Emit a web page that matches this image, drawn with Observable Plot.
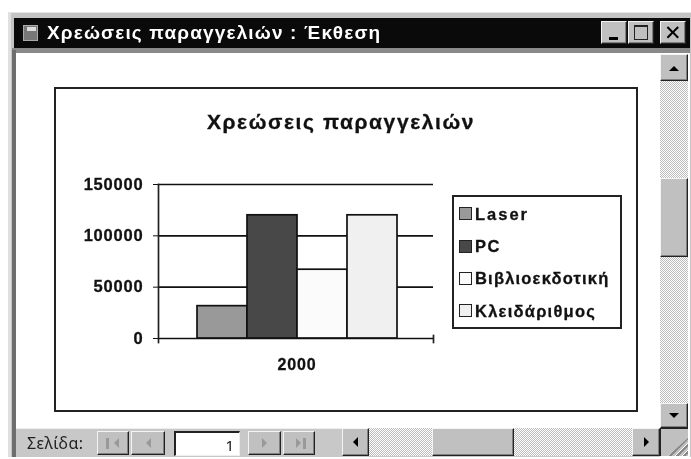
<!DOCTYPE html>
<html lang="el"><head><meta charset="utf-8">
<script src="https://cdn.jsdelivr.net/npm/d3@7"></script>
<script src="https://cdn.jsdelivr.net/npm/@observablehq/plot@0.6"></script>
<style>
html,body{margin:0;padding:0;background:#fff}
#stage{position:relative;width:691px;height:459px;overflow:hidden;background:#fff;font-family:"Liberation Sans",Arial,sans-serif;filter:blur(0.45px)}
#stage div{position:absolute;box-sizing:border-box}
#stage svg{position:absolute;left:0;top:0;background:transparent}
#stage svg text{stroke:#111;stroke-width:.3px;letter-spacing:.8px}
.heavy{-webkit-text-stroke:.3px currentColor}
.btn{background:#c0c0c0;border:1px solid;border-color:#f4f4f4 #222 #222 #f4f4f4;box-shadow:inset -1px -1px 0 #808080}
.chk{background-color:#fff;background-image:conic-gradient(#bcbcbc 25%,#fff 0 50%,#bcbcbc 0 75%,#fff 0);background-size:2px 2px}
</style></head><body><div id="stage"></div>
<script>
const years = ["2000"];
const series = ["Laser", "PC", "Βιβλιοεκδοτική", "Κλειδάριθμος"];
const values = [31500, 120000, 67000, 120000];
const colors = ["#999999", "#484848", "#fbfbfb", "#f0f0f0"];
const yTicks = [0, 50000, 100000, 150000];
const chartTitle = "Χρεώσεις παραγγελιών";
const windowTitle = "Χρεώσεις παραγγελιών : Έκθεση";
const pageLabel = "Σελίδα:";
const pageNumber = "1";

const rows = series.map((s, i) => ({year: years[0], series: s, value: values[i]}));
const stage = document.getElementById("stage");
function box(x0, y0, x1, y1, css = "", cls = "", text = "") {
  const d = document.createElement("div");
  d.style.cssText = `left:${x0}px;top:${y0}px;width:${x1 - x0}px;height:${y1 - y0}px;${css}`;
  if (cls) d.className = cls;
  if (text) d.textContent = text;
  stage.appendChild(d);
  return d;
}
function tri(cx, cy, dir, color = "#000", s = 5) {
  const b = {
    up: `border-left:${s}px solid transparent;border-right:${s}px solid transparent;border-bottom:${s}px solid ${color};`,
    down: `border-left:${s}px solid transparent;border-right:${s}px solid transparent;border-top:${s}px solid ${color};`,
    left: `border-top:${s}px solid transparent;border-bottom:${s}px solid transparent;border-right:${s}px solid ${color};`,
    right: `border-top:${s}px solid transparent;border-bottom:${s}px solid transparent;border-left:${s}px solid ${color};`
  }[dir];
  const hor = dir === "left" || dir === "right";
  const w = hor ? s : 2 * s, h = hor ? 2 * s : s;
  box(cx - w / 2, cy - h / 2, cx + w / 2, cy + h / 2, "width:0;height:0;" + b);
}

// window frame
box(8, 12, 691, 457, "background:#c4c4c4;border-top:1px solid #e6e6e6;border-left:3px solid #e0e0e0");
box(14, 18, 690, 49, "background:#0a0a0a");
box(12, 48, 690, 53, "background:#8a8a8a");
box(12, 50, 16, 457, "background:#6e6e6e");
box(16, 53, 690, 457, "background:#fff");
// title bar
box(23, 25, 38, 41, "background:#777;border:1px solid #aaa");
box(27, 27, 36, 31, "background:#ddd");
box(47, 20, 400, 46, "color:#fff;font-weight:bold;font-size:19px;line-height:26px;letter-spacing:1.15px;white-space:nowrap", "", windowTitle);
box(601, 21, 627, 44, "", "btn");
box(609, 37, 618, 40, "background:#000");
box(628, 21, 654, 44, "", "btn");
box(634, 25, 648, 40, "border:1px solid #222;border-top-width:2px");
box(660, 21, 686, 44, "color:#000;font-size:21px;line-height:21px;text-align:center", "btn", "✕");
// report page
box(54, 87, 638, 412, "border:2px solid #222;background:#fff");
box(191, 107, 491, 137, "font-weight:bold;font-size:21px;line-height:30px;text-align:center;letter-spacing:1.6px;color:#111;white-space:nowrap", "heavy", chartTitle);

// chart
const chart = Plot.plot({
  width: 691, height: 459,
  marginLeft: 158, marginRight: 258, marginTop: 184, marginBottom: 121,
  style: {background: "transparent", fontFamily: "Liberation Sans, Arial, sans-serif"},
  fx: {domain: years, padding: 0, label: null, axis: null},
  x: {domain: series, paddingInner: 0, paddingOuter: 0.73, align: 0.52, axis: null},
  y: {domain: [0, 150000], axis: null},
  color: {domain: series, range: colors},
  marks: [
    Plot.gridY(yTicks, {stroke: "#111", strokeOpacity: 1, strokeWidth: 1.7}),
    Plot.barY(rows, {fx: "year", x: "series", y: "value", fill: "series", stroke: "#111", strokeWidth: 1.7}),
    Plot.frame({anchor: "left", stroke: "#222", strokeWidth: 1.7, insetBottom: -4}),
    Plot.frame({anchor: "right", stroke: "#222", strokeWidth: 1.7, insetTop: 151, insetBottom: -4}),
    Plot.axisY({ticks: yTicks, tickSize: 5, tickPadding: 10, tickFormat: "d", label: null, fontSize: 16.5, fontWeight: "bold", fill: "#111", stroke: "#111"}),
    Plot.axisFx({anchor: "bottom", tickSize: 0, tickPadding: 20, label: null, fontSize: 16, fontWeight: "bold", fill: "#111", dx: 1})
  ]
});
stage.appendChild(chart);

// legend
box(452, 195, 622, 329, "border:2px solid #222;background:#fff");
const legY = [213.5, 246, 278, 310.5];
const legSpacing = [2, 1.5, 1.2, 1.25];
series.forEach((s, i) => {
  box(459, legY[i] - 6.5, 472, legY[i] + 6.5, `background:${colors[i]};border:1.5px solid #222`);
  box(475, legY[i] - 11, 620, legY[i] + 11, `font-weight:bold;font-size:16.5px;line-height:22px;color:#111;white-space:nowrap;letter-spacing:${legSpacing[i]}px`, "heavy", s);
});

// vertical scrollbar
box(660, 81, 688, 404, "", "chk");
box(660, 54, 688, 81, "", "btn"); tri(674, 68, "up");
box(660, 178, 688, 257, "", "btn");
box(660, 403, 688, 428, "", "btn"); tri(674, 415, "down");

// bottom bar
box(16, 428, 660, 457, "background:#c8c8c8;border-top:1px solid #eee");
box(27, 431, 95, 455, "font-family:'Noto Sans','DejaVu Sans',sans-serif;font-size:16px;line-height:24px;color:#222;letter-spacing:.4px;white-space:nowrap", "", pageLabel);
[[97, 129], [131, 165], [248, 281], [283, 315]].forEach(([a, b]) => box(a, 431, b, 455, "", "btn"));
tri(116, 443, "left", "#999", 5); box(106, 438, 109, 449, "background:#999");
tri(148, 443, "left", "#999", 5);
tri(264, 443, "right", "#999", 5);
tri(298, 443, "right", "#999", 5); box(303, 438, 306, 449, "background:#999");
box(174, 431, 240, 456, "background:#fff;border:1px solid;border-color:#222 #eee #eee #222;border-width:2px 1px 1px 2px;text-align:right;padding-right:5px;font-size:15px;line-height:24px;font-family:'Noto Sans',sans-serif;color:#111", "", pageNumber);

// horizontal scrollbar
box(342, 428, 660, 456, "", "chk");
box(342, 428, 369, 456, "", "btn"); tri(355, 442, "left");
box(432, 428, 514, 456, "", "btn");
box(632, 428, 660, 456, "", "btn"); tri(646, 442, "right");
box(660, 428, 688, 456, "background:#c0c0c0;border-top:1px solid #222;border-left:1px solid #222");
box(668, 438, 688, 456, "background:repeating-linear-gradient(135deg,#c0c0c0 0 2px,#fff 2px 3px,#888 3px 5px);clip-path:polygon(100% 0,100% 100%,0 100%)");
</script></body></html>
